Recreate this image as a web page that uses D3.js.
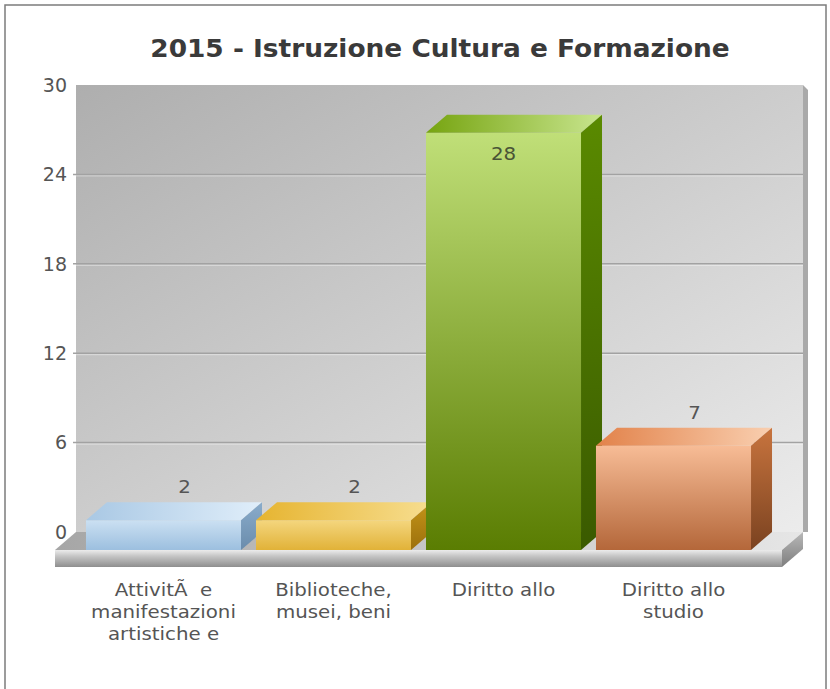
<!DOCTYPE html>
<html>
<head>
<meta charset="utf-8">
<script src="https://cdn.jsdelivr.net/npm/d3@7"></script>
<style>
  html, body { margin: 0; padding: 0; background: #fff; }
  svg { display: block; font-family: "DejaVu Sans", Verdana, sans-serif; }
</style>
</head>
<body>
<div id="chart"></div>
<script>
// dati del grafico
const chartTitle = '2015 - Istruzione Cultura e Formazione';
const categories = [
    ['AttivitÃ\u00a0 e', 'manifestazioni', 'artistiche e'],
    ['Biblioteche,', 'musei, beni'],
    ['Diritto allo'],
    ['Diritto allo', 'studio']
];
const values = [2, 2, 28, 7];
const yTicks = [0, 6, 12, 18, 24, 30];

// colori delle barre: fronte (alto, basso), tetto (sx, dx), lato (alto, basso)
const barColors = [
    { front: ['#cbe0f2', '#9cbfdf'], top: ['#a9c8e4', '#e0eefa'], side: ['#8aaccb', '#6a8cac'] },
    { front: ['#f4d67e', '#e1b238'], top: ['#e6b430', '#f7de90'], side: ['#c49418', '#9c700c'] },
    { front: ['#c0df78', '#5a7d02'], top: ['#76a410', '#c8e58e'], side: ['#5a8a00', '#3a5a00'] },
    { front: ['#f7bc96', '#b4673a'], top: ['#e2824a', '#f9cfb0'], side: ['#c8743e', '#7a4220'] }
];

const width = 830;
const height = 689;
const depthX = 21;
const depthY = -18;

const svg = d3.select('#chart')
    .append('svg')
    .attr('width', width)
    .attr('height', height);

const defs = svg.append('defs');

function linearGrad(id, stops, x2, y2) {
    const g = defs.append('linearGradient')
        .attr('id', id)
        .attr('x1', 0).attr('y1', 0)
        .attr('x2', x2).attr('y2', y2);
    stops.forEach(s => g.append('stop').attr('offset', s[0]).attr('stop-color', s[1]));
}

linearGrad('wallGrad', [[0, '#aeaeae'], [1, '#ececec']], 1, 1);
linearGrad('floorTop', [[0, '#a6a6a6'], [1, '#e6e6e6']], 1, 0);
linearGrad('floorFront', [[0, '#ececec'], [0.35, '#c6c6c6'], [1, '#8e8e8e']], 0, 1);
linearGrad('floorSide', [[0, '#b8b8b8'], [1, '#7e7e7e']], 0, 1);
barColors.forEach((c, i) => {
    linearGrad('front' + i, [[0, c.front[0]], [1, c.front[1]]], 0, 1);
    linearGrad('top' + i, [[0, c.top[0]], [1, c.top[1]]], 1, 0);
    linearGrad('side' + i, [[0, c.side[0]], [1, c.side[1]]], 0, 1);
});

// cornice esterna
svg.append('rect')
    .attr('x', 5).attr('y', 5)
    .attr('width', 821).attr('height', 720)
    .attr('fill', '#fff')
    .attr('stroke', '#7c7c7c')
    .attr('stroke-width', 1.5);

// scale
const x = d3.scaleBand()
    .domain(d3.range(categories.length))
    .range([78.5, 758.5])
    .paddingInner(0.088)
    .paddingOuter(0.044);

const y = d3.scaleLinear()
    .domain([0, 30])
    .range([550, 103]);

const floorLeft = 55;
const floorRight = 782;
const wallLeft = floorLeft + depthX;
const wallRight = floorRight + depthX;

// parete di fondo
svg.append('rect')
    .attr('x', wallLeft)
    .attr('y', y(30) + depthY)
    .attr('width', wallRight - wallLeft)
    .attr('height', y(0) - y(30))
    .attr('fill', 'url(#wallGrad)');

svg.append('polygon')
    .attr('points', [
        [wallRight, y(30) + depthY],
        [wallRight + 5, y(30) + depthY + 5],
        [wallRight + 5, y(0) + depthY],
        [wallRight, y(0) + depthY]
    ].join(' '))
    .attr('fill', '#a9a9a9');

// griglia
const grid = svg.append('g');
grid.selectAll('line.grid')
    .data(yTicks.filter(t => t > 0 && t < 30))
    .join('line')
    .attr('class', 'grid')
    .attr('x1', wallLeft - 3).attr('x2', wallRight)
    .attr('y1', d => y(d) + depthY).attr('y2', d => y(d) + depthY)
    .attr('stroke', '#a2a2a2')
    .attr('stroke-width', 1.5);
grid.selectAll('line.hl')
    .data(yTicks.filter(t => t > 0 && t < 30))
    .join('line')
    .attr('class', 'hl')
    .attr('x1', wallLeft).attr('x2', wallRight)
    .attr('y1', d => y(d) + depthY + 1.5).attr('y2', d => y(d) + depthY + 1.5)
    .attr('stroke', '#ffffff')
    .attr('stroke-opacity', 0.45)
    .attr('stroke-width', 1);

// etichette asse y
svg.append('g')
    .selectAll('text')
    .data(yTicks)
    .join('text')
    .attr('x', 67)
    .attr('y', d => y(d) + depthY)
    .attr('dy', '0.36em')
    .attr('text-anchor', 'end')
    .attr('font-size', 19)
    .attr('fill', '#555')
    .text(d => d);

// pavimento
svg.append('polygon')
    .attr('points', [
        [floorLeft, y(0)], [wallLeft, y(0) + depthY],
        [wallRight, y(0) + depthY], [floorRight, y(0)]
    ].join(' '))
    .attr('fill', 'url(#floorTop)');
svg.append('rect')
    .attr('x', floorLeft).attr('y', y(0))
    .attr('width', floorRight - floorLeft).attr('height', 17)
    .attr('fill', 'url(#floorFront)');
svg.append('polygon')
    .attr('points', [
        [floorRight, y(0)], [wallRight, y(0) + depthY],
        [wallRight, y(0) + depthY + 17], [floorRight, y(0) + 17]
    ].join(' '))
    .attr('fill', 'url(#floorSide)');

// barre 3D
const bars = svg.append('g')
    .selectAll('g.bar')
    .data(values)
    .join('g')
    .attr('class', 'bar');

bars.append('rect')
    .attr('x', (d, i) => x(i))
    .attr('y', d => y(d))
    .attr('width', x.bandwidth())
    .attr('height', d => y(0) - y(d))
    .attr('fill', (d, i) => `url(#front${i})`);

bars.append('polygon')
    .attr('points', (d, i) => {
        const x0 = x(i), w = x.bandwidth(), t = y(d);
        return [[x0, t], [x0 + depthX, t + depthY], [x0 + w + depthX, t + depthY], [x0 + w, t]].join(' ');
    })
    .attr('fill', (d, i) => `url(#top${i})`);

bars.append('polygon')
    .attr('points', (d, i) => {
        const x0 = x(i), w = x.bandwidth(), t = y(d), b = y(0);
        return [[x0 + w, t], [x0 + w + depthX, t + depthY], [x0 + w + depthX, b + depthY], [x0 + w, b]].join(' ');
    })
    .attr('fill', (d, i) => `url(#side${i})`);

// etichette dei valori
const inside = d => y(d) + depthY - 30 < y(30) + depthY;
svg.append('g')
    .selectAll('text')
    .data(values)
    .join('text')
    .attr('transform', (d, i) => {
        const cx = x(i) + x.bandwidth() / 2 + (inside(d) ? 0 : depthX);
        const cy = inside(d) ? y(d) + 27 : y(d) + depthY - 9;
        return `translate(${cx},${cy}) scale(1.1,1)`;
    })
    .attr('text-anchor', 'middle')
    .attr('font-size', 18)
    .attr('fill', d => inside(d) ? '#4a5436' : '#555')
    .text(d => d);

// etichette categorie
const catLabels = svg.append('g')
    .selectAll('text')
    .data(categories)
    .join('text')
    .attr('transform', (d, i) => `translate(${x(i) + x.bandwidth() / 2},596) scale(1.1,1)`)
    .attr('text-anchor', 'middle')
    .attr('font-size', 18)
    .attr('fill', '#555');

catLabels.selectAll('tspan')
    .data(d => d)
    .join('tspan')
    .attr('x', 0)
    .attr('dy', (d, j) => j === 0 ? 0 : 22)
    .text(d => d);

// titolo
svg.append('text')
    .attr('transform', 'translate(440,57) scale(1.1,1)')
    .attr('text-anchor', 'middle')
    .attr('font-size', 24)
    .attr('font-weight', 'bold')
    .attr('fill', '#3a3a3a')
    .text(chartTitle);
</script>
</body>
</html>
